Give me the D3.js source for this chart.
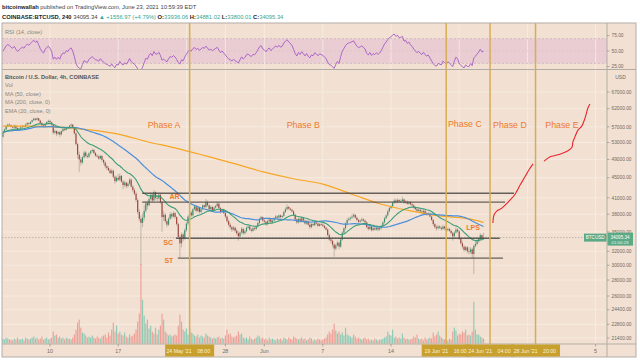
<!DOCTYPE html>
<html><head><meta charset="utf-8">
<script src="https://cdn.jsdelivr.net/npm/d3@7"></script>
<style>body{margin:0;background:#fff}svg{display:block}text{font-family:"Liberation Sans",Arial,sans-serif}</style>
</head><body><svg id="c" width="640" height="360"></svg>
<script>
// ---------- DATA ----------
const startTime = "2021-05-05T04:00"; // first visible 4h bar (UTC)
// 4h closes before the visible range (27 Apr 00:00 -> 5 May 00:00), for indicator warm-up
const warmupCloseK = [54.2,54.6,54.9,55.1,54.8,55.0, 55.3,55.6,55.0,54.6,54.9,54.8, 54.5,53.9,53.6,53.2,53.7,53.5,
  53.8,54.6,55.9,56.8,57.4,57.7, 57.9,57.6,58.0,57.5,57.8,57.8, 57.4,57.0,56.8,56.4,56.7,56.6,
  56.9,57.3,57.8,58.5,57.9,57.2, 56.4,55.1,54.0,53.6,53.3,53.2, 54.4];
const closeK = [55.6,56.3,57.2,57.6,57.4,
 57.0,56.8,57.3,56.7,56.2,56.5, 56.9,57.2,57.0,57.6,58.0,57.8, 58.3,58.8,59.2,58.9,59.3,58.7, 58.0,57.4,57.1,57.8,58.3,58.6,
 58.2,57.6,55.5,55.9,55.2,55.6, 55.0,55.9,56.4,56.2,56.9,56.7, 57.3,57.6,56.9,55.3,52.6,50.1, 49.0,48.3,49.5,50.6,49.8,49.6,
 50.4,50.9,51.2,50.5,49.9,49.7, 49.2,49.8,48.9,48.3,47.5,47.1, 46.6,46.0,46.5,45.2,44.3,45.0, 44.6,45.4,44.2,43.5,44.0,43.3,
 43.8,44.6,43.2,42.5,41.8,40.6, 38.4,37.2,36.5,37.4,38.6,40.0, 39.6,40.8,41.6,40.5,42.1,41.0, 40.9,41.6,40.2,37.5,37.9,36.8,
 36.2,37.2,38.0,37.6,38.2,37.5, 36.3,34.2,33.2,34.6,34.0,35.3, 36.4,37.6,38.3,37.8,38.9,39.4, 38.6,39.2,38.4,38.9,39.6,39.3,
 40.2,39.6,38.9,39.3,38.7,39.2, 39.5,39.9,39.1,38.4,38.8,38.2, 37.6,36.8,36.2,35.8,35.4,35.7, 35.2,34.8,34.3,34.9,35.5,34.8,
 35.1,35.7,35.9,35.4,35.2,35.6, 35.5,35.9,36.5,37.2,37.5,36.9, 36.7,36.3,36.8,37.1,36.6,36.9, 37.3,37.6,37.4,37.8,37.5,37.7,
 38.4,38.9,39.3,39.0,38.8,38.5, 37.9,37.1,36.6,37.2,36.8,37.3, 36.9,36.4,36.8,36.2,35.8,36.3, 36.1,36.6,36.4,36.0,36.3,36.2,
 36.0,35.7,35.4,34.5,33.8,33.6, 33.0,32.4,32.9,33.3,32.7,33.8, 34.9,35.6,36.4,37.0,37.2,37.4, 37.6,37.9,37.4,37.0,36.7,36.9,
 37.1,36.9,36.6,35.8,35.5,35.9, 35.3,35.6,35.4,35.7,35.4,35.6, 36.0,36.6,37.3,37.8,38.5,39.1, 39.4,40.1,40.5,40.2,40.6,40.3,
 40.4,40.7,40.1,40.3,39.9,40.2, 39.8,39.6,39.2,38.9,38.6,38.8, 38.5,38.3,38.6,38.2,38.0,38.1, 37.6,37.0,36.3,35.8,35.6,35.9,
 35.7,35.5,35.9,35.6,35.3,35.5, 35.2,34.8,34.3,34.9,35.4,35.1, 33.9,33.2,32.7,32.2,32.6,32.0, 31.9,32.3,31.6,32.8,33.1,33.5,
 33.9,34.5,33.936,34.095];
const highK = [56.0,56.6,57.5,57.9,57.9,
 57.7,57.3,57.6,57.5,56.9,56.8, 57.1,57.5,57.4,57.9,58.3,58.2, 58.5,59.0,59.5,59.4,59.6,59.4, 58.9,58.3,57.7,58.0,58.5,58.9,
 59.0,58.4,57.8,56.3,56.1,55.9, 55.8,56.1,56.7,56.6,57.1,57.1, 57.5,57.9,57.7,57.0,55.6,53.0, 50.8,49.6,49.8,51.0,51.0,50.2,
 50.7,51.2,51.5,51.4,50.7,50.2, 49.9,50.1,50.0,49.1,48.6,47.8, 47.5,47.0,46.9,46.7,45.5,45.4, 45.8,45.9,45.6,44.5,44.4,44.2,
 44.1,45.0,44.9,43.5,42.9,42.2, 40.9,38.9,37.8,38.2,39.6,40.4, 40.5,41.2,42.0,41.9,42.5,42.3, 41.5,42.0,41.8,40.4,38.6,38.2,
 37.1,37.5,38.4,38.3,38.5,38.4, 37.7,36.6,34.5,34.9,34.9,35.6, 36.7,37.9,38.7,38.6,39.1,39.6, 39.6,39.4,39.3,39.1,39.8,39.8,
 40.8,40.5,39.8,39.6,39.5,39.4, 39.7,40.3,40.1,39.3,39.0,39.0, 38.4,37.8,37.1,36.5,36.0,36.0, 35.9,35.5,35.1,35.1,35.8,35.7,
 35.3,35.9,36.2,36.1,35.6,35.9, 35.9,36.1,36.7,37.4,37.7,37.6, 37.2,36.9,37.0,37.4,37.3,37.1, 37.5,37.9,37.8,38.0,38.0,37.9,
 38.6,39.2,39.8,39.5,39.2,39.0, 38.7,38.1,37.3,37.4,37.4,37.5, 37.5,37.1,37.0,37.0,36.5,36.5, 36.5,36.8,36.8,36.6,36.5,36.5,
 36.4,36.2,35.9,35.6,34.8,34.1, 33.8,33.3,33.1,33.6,33.5,34.0, 35.1,35.8,36.6,37.3,37.5,37.6, 38.0,38.2,38.0,37.6,37.2,37.1,
 37.4,37.3,37.1,36.8,36.0,36.1, 36.0,35.8,35.8,35.9,35.8,35.8, 36.2,36.8,37.5,38.0,38.8,39.3, 39.7,40.3,40.8,40.9,40.9,40.8,
 40.7,41.2,40.9,40.6,40.5,40.4, 40.4,40.1,39.8,39.4,39.1,39.0, 39.0,38.8,38.9,38.8,38.4,38.4, 38.3,37.8,37.2,36.5,36.1,36.2,
 36.1,35.9,36.2,36.0,35.7,35.7, 35.7,35.4,35.0,35.1,35.7,35.6, 35.3,34.1,33.5,32.9,32.8,32.8, 32.6,32.6,32.5,33.0,33.6,33.8,
 34.1,34.8,34.6,34.881];
const lowK = [54.2,55.3,56.1,56.9,57.0,
 56.8,56.5,56.6,56.4,55.9,56.0, 56.3,56.7,56.7,56.8,57.4,57.5, 57.6,58.1,58.6,58.6,58.7,58.5, 57.8,57.2,56.8,56.9,57.6,58.0,
 58.0,57.3,55.0,55.1,54.6,54.9, 54.4,54.8,55.6,55.9,56.0,56.4, 56.5,57.1,56.6,55.0,52.3,49.2, 46.2,47.6,48.0,49.2,49.4,49.2,
 49.3,50.1,50.6,50.2,49.6,49.4, 48.9,49.0,48.5,47.8,47.0,46.6, 46.4,45.8,45.7,44.9,43.8,44.1, 44.3,44.3,44.0,42.7,43.1,42.9,
 43.0,43.5,43.0,42.1,41.5,40.2, 38.0,36.8,30.0,35.8,36.9,38.3, 38.9,39.4,40.5,40.1,40.3,40.7, 40.4,40.7,39.9,35.0,36.8,36.5,
 35.8,36.0,37.0,37.2,37.4,37.2, 36.0,33.9,31.1,32.6,33.5,33.8, 35.0,36.1,37.3,37.5,37.6,38.7, 38.3,38.4,38.1,38.2,38.7,39.0,
 39.1,39.4,38.7,38.7,38.5,38.6, 39.0,39.3,38.9,38.1,38.2,38.0, 37.3,36.5,35.9,35.4,35.0,35.2, 34.9,34.5,33.6,34.1,34.7,34.5,
 34.6,34.9,35.5,35.2,34.9,35.0, 35.2,35.3,35.7,36.3,37.0,36.7, 36.4,36.0,36.1,36.6,36.3,36.4, 36.7,37.1,37.2,37.2,37.3,37.3,
 37.5,38.2,38.7,38.8,38.6,38.3, 37.7,36.9,36.3,36.4,36.5,36.6, 36.7,36.2,36.2,36.0,35.5,35.6, 35.9,36.0,36.2,35.8,35.9,36.0,
 35.8,35.5,35.2,34.3,33.6,33.2, 32.6,31.2,32.1,32.7,32.3,32.5, 33.6,34.6,35.3,36.1,36.8,36.9, 37.1,37.4,37.2,36.8,36.4,36.5,
 36.7,36.7,36.4,35.6,35.2,35.3, 35.1,35.1,35.2,35.2,35.1,35.2, 35.4,35.8,36.4,37.1,37.6,38.3, 38.9,39.2,39.9,40.0,40.0,40.1,
 40.0,40.2,39.9,39.9,39.7,39.7, 39.6,39.4,39.0,38.7,38.3,38.4, 38.3,38.1,38.1,38.0,37.7,37.8, 37.4,36.8,36.0,35.5,35.2,35.4,
 35.5,35.2,35.3,35.3,35.0,35.1, 35.0,34.6,33.6,34.1,34.7,34.9, 33.7,33.0,32.4,31.9,32.0,31.7, 31.5,31.6,30.9,28.8,32.6,32.9,
 33.3,33.7,33.8,33.800];
const volume = [5,4,6,5,4,
 4,3,5,4,6,4, 4,5,3,6,5,4, 5,6,7,5,6,4, 5,7,4,5,6,4, 5,6,12,8,9,6, 7,5,6,4,6,5, 5,4,6,9,14,21, 24,16,11,10,8,6,
 7,6,8,6,5,7, 6,5,7,8,9,6, 11,8,14,21,12,18, 10,12,9,8,11,7, 6,9,7,8,10,14, 22,30,80,44,28,20, 24,15,18,12,10,16,
 9,14,18,30,24,12, 10,8,9,7,8,9, 8,18,29,22,14,12, 15,9,16,11,10,8, 7,9,6,8,7,6, 10,8,7,6,5,6, 5,6,7,5,6,5,
 8,14,9,10,7,6, 7,8,12,9,10,6, 5,6,4,7,5,4, 5,6,8,7,5,6, 4,5,3,6,4,5, 4,3,5,4,5,3, 6,5,4,6,5,4, 7,6,5,4,5,6,
 4,5,3,4,6,5, 3,4,3,5,4,3, 4,5,6,9,12,10, 14,20,13,10,12,9, 11,8,16,9,8,7, 6,9,7,5,6,5, 4,5,6,4,5,3, 4,3,5,4,3,4,
 4,5,6,7,12,9, 8,14,6,7,5,6, 5,10,6,4,5,4, 4,5,7,6,9,5, 4,5,3,6,4,5, 6,5,11,7,9,12, 8,6,5,4,5,3, 5,4,12,16,13,8,
 10,9,12,11,14,8, 9,8,12,42,14,9, 9,7,6,5];
// MA(200)
const ma200Dates = ["2021-05-05T04:00","2021-05-08T00:00","2021-05-11T00:00","2021-05-14T00:00","2021-05-17T00:00","2021-05-20T00:00",
 "2021-05-23T00:00","2021-05-26T00:00","2021-05-29T00:00","2021-06-01T00:00","2021-06-04T00:00","2021-06-07T00:00","2021-06-10T00:00",
 "2021-06-13T00:00","2021-06-16T00:00","2021-06-19T00:00","2021-06-22T00:00","2021-06-23T12:00"];
const ma200K = [57.2,57.2,56.9,56.2,55.1,53.2,51.6,49.8,48.0,46.2,44.8,43.7,41.7,39.8,38.6,37.7,37.2,36.6];
const lastPrice = 34095.34;
const priceTicks = [67000,62000,57000,53000,49000,45000,41000,38000,35000,32000,30000,28000,26000,24400,22800,21400];
const rsiTicks = [75,50,25];
const timeTickDates = ["2021-05-10","2021-05-17","2021-05-28","2021-06-01","2021-06-07","2021-06-14","2021-07-05"];
const timeTickLabels = ["10","17","28","Jun","7","14","5"];
const gridDates = ["2021-05-10","2021-05-17","2021-05-24","2021-05-28","2021-06-01","2021-06-07","2021-06-14","2021-06-21","2021-06-28","2021-07-05"];
const phaseDates = ["2021-05-24T08:00","2021-06-19T16:00","2021-06-24T04:00","2021-06-28T20:00"];
const phaseLabels = ["Phase A","Phase B","Phase C","Phase D","Phase E"];
const phaseLabelDates = ["2021-05-21T17:00","2021-06-05T00:00","2021-06-21T14:00","2021-06-26T05:00","2021-07-01T13:00"];
const phaseLabelK = [57.3,57.3,57.6,57.4,57.4];
const levelK = [41.9,40.2,34.0,31.0];
const levelStart = ["2021-05-19T11:00","2021-05-19T11:00","2021-05-22T22:00","2021-05-23T03:00"];
const levelEnd = ["2021-06-26T15:00","2021-06-25T17:00","2021-06-25T04:00","2021-06-25T12:00"];
const eventLabels = ["AR","SC","ST","LPS"];
const eventDates = ["2021-05-22T19:00","2021-05-22T03:00","2021-05-22T05:00","2021-06-22T10:00"];
const eventK = [41.2,33.3,30.6,35.7];
const proj1Dates = ["2021-06-24T11:00","2021-06-24T14:00","2021-06-24T21:00","2021-06-25T09:00","2021-06-25T22:00","2021-06-26T08:00",
 "2021-06-26T15:00","2021-06-26T22:00","2021-06-27T06:00","2021-06-27T18:00","2021-06-28T04:00","2021-06-28T14:00"];
const proj1K = [36.5,37.9,38.6,39.1,40.0,40.8,41.4,42.3,43.5,45.2,46.7,48.0];
const proj2Dates = ["2021-06-29T17:00","2021-06-30T08:00","2021-07-01T01:00","2021-07-01T16:00","2021-07-02T04:00","2021-07-02T14:00",
 "2021-07-02T16:00","2021-07-02T21:00","2021-07-03T05:00","2021-07-03T14:00","2021-07-03T22:00","2021-07-04T05:00","2021-07-04T10:00"];
const proj2K = [48.6,49.6,50.0,50.5,51.0,51.9,53.1,54.4,56.2,57.2,59.4,62.2,63.4];

// ---------- SETUP ----------
const P = s => new Date(s + (s.length === 10 ? "T00:00Z" : "Z"));
const svg = d3.select("#c");
const L = 2, R = 607, RE = 636, T = 23, RB = 69.5, MB = 344, B = 357;
const BG = "#f2e1d2";
svg.append("rect").attr("width", 640).attr("height", 360).attr("fill", "#fff");
svg.append("rect").attr("x", L).attr("y", T).attr("width", RE - L).attr("height", B - T).attr("fill", BG);

const defs = svg.append("defs");
defs.append("clipPath").attr("id", "cm").append("rect").attr("x", L).attr("y", RB).attr("width", R - L).attr("height", MB - RB);
defs.append("clipPath").attr("id", "cr").append("rect").attr("x", L).attr("y", T).attr("width", R - L).attr("height", RB - T);

const x = d3.scaleUtc().domain([P("2021-05-10"), P("2021-06-14")]).range([50, 391]);
const y = d3.scaleLog().domain([21400, 67000]).range([338, 92]);
const yr = d3.scaleLinear().domain([25, 75]).range([66.5, 35.5]);
const yv = d3.scaleLinear().domain([0, 80]).range([MB - 0.5, MB - 80]);

const t0 = P(startTime);
const bars = closeK.map((c, i) => ({
  t: d3.utcHour.offset(t0, 4 * i),
  o: (i === 0 ? warmupCloseK[warmupCloseK.length - 1] : closeK[i - 1]) * 1000,
  c: c * 1000, h: highK[i] * 1000, l: lowK[i] * 1000, v: volume[i]
}));

// indicators from closes
const all = warmupCloseK.concat(closeK).map(d => d * 1000);
const off = warmupCloseK.length;
const ema = []; { const k = 2 / 21; let e = d3.mean(all.slice(0, 20)); all.forEach((v, i) => { if (i >= 20) e = v * k + e * (1 - k); ema.push(i >= 19 ? e : null); }); }
const ma50 = all.map((v, i) => i >= 49 ? d3.mean(all.slice(i - 49, i + 1)) : null);
const rsi = (() => { const n = 14, out = all.map(() => null); let g = 0, l = 0;
  for (let i = 1; i <= n; i++) { const d = all[i] - all[i - 1]; if (d > 0) g += d; else l -= d; }
  g /= n; l /= n; out[n] = 100 - 100 / (1 + g / l);
  for (let i = n + 1; i < all.length; i++) { const d = all[i] - all[i - 1];
    g = (g * (n - 1) + Math.max(d, 0)) / n; l = (l * (n - 1) + Math.max(-d, 0)) / n;
    out[i] = l === 0 ? 100 : 100 - 100 / (1 + g / l); }
  return out; })();

// ---------- RSI PANE ----------
const rp = svg.append("g").attr("clip-path", "url(#cr)");
rp.append("rect").attr("x", L).attr("width", R - L).attr("y", yr(70)).attr("height", yr(30) - yr(70)).attr("fill", "#e9cdd3");
gridDates.forEach(d => rp.append("line").attr("x1", x(P(d))).attr("x2", x(P(d))).attr("y1", T).attr("y2", RB).attr("stroke", "#f7ece3").attr("stroke-width", 0.8));
[70, 50, 30].forEach(v => rp.append("line").attr("x1", L).attr("x2", R).attr("y1", yr(v)).attr("y2", yr(v))
  .attr("stroke", v === 50 ? "#d8bfc8" : "#bfa9b6").attr("stroke-width", 0.6).attr("stroke-dasharray", "2,2"));
rp.append("path").datum(bars.map((b, i) => [b.t, rsi[i + off]])).attr("fill", "none").attr("stroke", "#a65bc6").attr("stroke-width", 0.9)
  .attr("d", d3.line().x(d => x(d[0])).y(d => yr(d[1])));
svg.append("text").attr("x", 5).attr("y", 34).attr("font-size", 5.6).attr("fill", "#8a8580").text("RSI (14, close)");

// ---------- MAIN PANE ----------
const mp = svg.append("g").attr("clip-path", "url(#cm)");
gridDates.forEach(d => mp.append("line").attr("x1", x(P(d))).attr("x2", x(P(d))).attr("y1", RB).attr("y2", MB).attr("stroke", "#f7ece3").attr("stroke-width", 0.8));
priceTicks.forEach(p => mp.append("line").attr("x1", L).attr("x2", R).attr("y1", y(p)).attr("y2", y(p)).attr("stroke", "#f7ece3").attr("stroke-width", 0.8));

// volume
const bw = 1.15;
mp.selectAll(".vol").data(bars).join("rect").attr("x", d => x(d.t) - bw / 2).attr("width", bw)
  .attr("y", d => yv(d.v)).attr("height", d => yv(0) - yv(d.v))
  .attr("fill", d => d.c >= d.o ? "#8ccab6" : "#ee9f97");

// current price line
mp.append("line").attr("x1", L).attr("x2", R).attr("y1", y(lastPrice)).attr("y2", y(lastPrice))
  .attr("stroke", "#9a958f").attr("stroke-width", 0.6).attr("stroke-dasharray", "1.5,1.5");

// candles
mp.selectAll(".wick").data(bars).join("line").attr("x1", d => x(d.t)).attr("x2", d => x(d.t))
  .attr("y1", d => y(Math.max(d.h, d.o, d.c))).attr("y2", d => y(Math.min(d.l, d.o, d.c)))
  .attr("stroke", "#9d9893").attr("stroke-width", 0.6);
mp.selectAll(".body").data(bars).join("rect").attr("x", d => x(d.t) - bw / 2).attr("width", bw)
  .attr("y", d => y(Math.max(d.o, d.c))).attr("height", d => Math.max(0.8, Math.abs(y(d.o) - y(d.c))))
  .attr("fill", d => d.c >= d.o ? "#3b8e68" : "#9e463b");

// moving averages
const ln = d3.line().defined(d => d[1] != null).x(d => x(d[0])).y(d => y(d[1]));
mp.append("path").datum(ma200Dates.map((d, i) => [P(d), ma200K[i] * 1000])).attr("fill", "none").attr("stroke", "#f6a623").attr("stroke-width", 1.2)
  .attr("d", ln.curve(d3.curveMonotoneX));
mp.append("path").datum(bars.map((b, i) => [b.t, ma50[i + off]])).attr("fill", "none").attr("stroke", "#4b8fdc").attr("stroke-width", 1.2)
  .attr("d", d3.line().x(d => x(d[0])).y(d => y(d[1])));
mp.append("path").datum(bars.map((b, i) => [b.t, ema[i + off]])).attr("fill", "none").attr("stroke", "#3a9d78").attr("stroke-width", 1.1)
  .attr("d", d3.line().x(d => x(d[0])).y(d => y(d[1])));

// horizontal level lines
levelK.forEach((k, i) => mp.append("line").attr("x1", x(P(levelStart[i]))).attr("x2", x(P(levelEnd[i])))
  .attr("y1", y(k * 1000)).attr("y2", y(k * 1000)).attr("stroke", "#4d4a47").attr("stroke-width", 1.4).attr("opacity", 0.85));

// projection curves
[[proj1Dates, proj1K], [proj2Dates, proj2K]].forEach(([ds, ks]) =>
  mp.append("path").datum(ds.map((d, i) => [P(d), ks[i] * 1000])).attr("fill", "none").attr("stroke", "#e8262b").attr("stroke-width", 1.1)
    .attr("d", d3.line().x(d => x(d[0])).y(d => y(d[1])).curve(d3.curveCatmullRom)));

// phase vertical lines
phaseDates.forEach(d => svg.append("line").attr("x1", x(P(d))).attr("x2", x(P(d))).attr("y1", T).attr("y2", MB)
  .attr("stroke", "#d7ad55").attr("stroke-width", 1.5));

// labels
phaseLabels.forEach((s, i) => svg.append("text").attr("x", x(P(phaseLabelDates[i]))).attr("y", y(phaseLabelK[i] * 1000))
  .attr("text-anchor", "middle").attr("dominant-baseline", "middle").attr("font-size", 8.8).attr("fill", "#ec7a2e").text(s));
eventLabels.forEach((s, i) => svg.append("text").attr("x", x(P(eventDates[i]))).attr("y", y(eventK[i] * 1000))
  .attr("text-anchor", "middle").attr("dominant-baseline", "middle").attr("font-size", 7).attr("font-weight", "bold").attr("fill", "#ec7a2e").text(s));

// legend
const leg = ["Bitcoin / U.S. Dollar, 4h, COINBASE", "Vol", "MA (50, close)", "MA (200, close, 0)", "EMA (20, close, 0)"];
leg.forEach((s, i) => svg.append("text").attr("x", 5).attr("y", 79 + i * 8.4).attr("font-size", 5.6)
  .attr("fill", i === 0 ? "#555" : "#8a8580").attr("font-weight", i === 0 ? "bold" : "normal").text(s));

// ---------- FRAMES & AXES ----------
svg.append("line").attr("x1", L).attr("x2", RE).attr("y1", RB).attr("y2", RB).attr("stroke", "#b3aca5").attr("stroke-width", 1);
svg.append("line").attr("x1", R).attr("x2", R).attr("y1", T).attr("y2", B).attr("stroke", "#b3aca5").attr("stroke-width", 1);
svg.append("line").attr("x1", L).attr("x2", RE).attr("y1", MB).attr("y2", MB).attr("stroke", "#b3aca5").attr("stroke-width", 1);
svg.append("rect").attr("x", L).attr("y", T).attr("width", RE - L).attr("height", B - T).attr("fill", "none").attr("stroke", "#b3aca5").attr("stroke-width", 1);

const f2 = d3.format(".2f");
rsiTicks.forEach(v => { svg.append("line").attr("x1", R).attr("x2", R + 2.5).attr("y1", yr(v)).attr("y2", yr(v)).attr("stroke", "#8a8580").attr("stroke-width", 0.6);
  svg.append("text").attr("x", R + 4.5).attr("y", yr(v) + 1.7).attr("font-size", 4.8).attr("fill", "#6e6a66").text(f2(v)); });
priceTicks.forEach(p => { svg.append("line").attr("x1", R).attr("x2", R + 2.5).attr("y1", y(p)).attr("y2", y(p)).attr("stroke", "#8a8580").attr("stroke-width", 0.6);
  svg.append("text").attr("x", R + 4.5).attr("y", y(p) + 1.7).attr("font-size", 4.8).attr("fill", "#6e6a66").text(f2(p)); });
svg.append("rect").attr("x", 611).attr("y", 73.5).attr("width", 19).attr("height", 7.5).attr("fill", BG);
svg.append("text").attr("x", 620.5).attr("y", 79.3).attr("text-anchor", "middle").attr("font-size", 5).attr("fill", "#6e6a66").text("USD");

// current price labels
const yc = y(lastPrice);
svg.append("rect").attr("x", 584).attr("y", yc - 4).attr("width", 22.5).attr("height", 8).attr("fill", "#5ca986");
svg.append("text").attr("x", 595.2).attr("y", yc + 1.7).attr("text-anchor", "middle").attr("font-size", 4.6).attr("fill", "#fff").text("BTCUSD");
svg.append("rect").attr("x", 607.5).attr("y", yc - 5).attr("width", 25.5).attr("height", 13).attr("fill", "#5ca986");
svg.append("text").attr("x", 620).attr("y", yc + 1).attr("text-anchor", "middle").attr("font-size", 4.6).attr("fill", "#fff").text(f2(lastPrice));
svg.append("text").attr("x", 620).attr("y", yc + 6.3).attr("text-anchor", "middle").attr("font-size", 4.4).attr("fill", "#e6f4ec").text("01:00:23");

// time axis
timeTickDates.forEach((d, i) => { const xx = x(P(d));
  svg.append("line").attr("x1", xx).attr("x2", xx).attr("y1", MB).attr("y2", MB + 2.5).attr("stroke", "#8a8580").attr("stroke-width", 0.6);
  svg.append("text").attr("x", xx).attr("y", 353).attr("text-anchor", "middle").attr("font-size", 5.3).attr("fill", "#6e6a66").text(timeTickLabels[i]); });
const fd = d3.utcFormat("%-d %b '%y"), ft = d3.utcFormat("%H:%M");
phaseDates.forEach(d => svg.append("rect").attr("x", x(P(d)) - 24.5).attr("y", MB + 0.5).attr("width", 49).attr("height", 12).attr("fill", "#c8a02e"));
phaseDates.forEach(d => { const xx = x(P(d));
  svg.append("text").attr("x", xx + 2).attr("y", 352.5).attr("text-anchor", "end").attr("font-size", 5.2).attr("fill", "#fcf1d8").text(fd(P(d)));
  svg.append("text").attr("x", xx + 7.5).attr("y", 352.5).attr("font-size", 5.2).attr("fill", "#fcf1d8").text(ft(P(d))); });

// ---------- HEADER ----------
const h1 = svg.append("text").attr("x", 2).attr("y", 9).attr("font-size", 5.8).attr("fill", "#444");
h1.append("tspan").attr("font-weight", "bold").attr("fill", "#222").text("bitcoinwallah");
h1.append("tspan").text(" published on TradingView.com, June 23, 2021 10:59:39 EDT");
const h2 = svg.append("text").attr("x", 2).attr("y", 18.5).attr("font-size", 5.8).attr("fill", "#444");
const teal = "#36a58e";
[["COINBASE:BTCUSD, 240", "#222", "bold"], [" 34095.34 ", "#444", "normal"], ["▲ +1556.97 (+4.79%)", teal, "normal"],
 [" O:", "#222", "bold"], ["33936.06", teal, "normal"], [" H:", "#222", "bold"], ["34881.02", teal, "normal"],
 [" L:", "#222", "bold"], ["33800.01", teal, "normal"], [" C:", "#222", "bold"], ["34095.34", teal, "normal"]]
 .forEach(([s, c, w]) => h2.append("tspan").attr("fill", c).attr("font-weight", w).text(s));
</script></body></html>
